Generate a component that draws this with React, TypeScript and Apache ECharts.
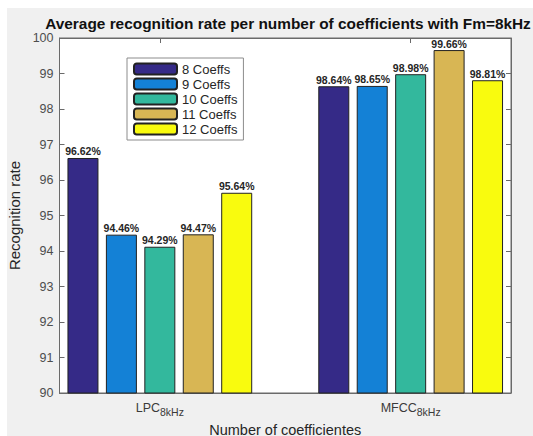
import React, { useEffect, useRef } from "react";
import * as echarts from "echarts";

const groupPositions = [1, 2];
const groupNames = ["LPC", "MFCC"];
const groupSub = "8kHz";
const seriesNames = ["8 Coeffs", "9 Coeffs", "10 Coeffs", "11 Coeffs", "12 Coeffs"];
const lpcValues = [96.62, 94.46, 94.12, 94.47, 95.64];
const mfccValues = [98.64, 98.65, 98.98, 99.66, 98.81];
const lpcLabels = ["96.62%", "94.46%", "94.29%", "94.47%", "95.64%"];
const mfccLabels = ["98.64%", "98.65%", "98.98%", "99.66%", "98.81%"];
const colors = ["#352a87", "#1481d6", "#33b89d", "#d8b654", "#f9fb0e"];
const yTicks = [90, 91, 92, 93, 94, 95, 96, 97, 98, 99, 100];

export default function App() {
  const ref = useRef<HTMLDivElement>(null);
  useEffect(() => {
    if (!ref.current) return;
    const chart = echarts.init(ref.current, null, { renderer: "svg" });
    const font = "'Liberation Sans', Arial, Helvetica, sans-serif";
    const series = seriesNames.map((name, i) => ({
      name,
      type: "bar",
      xAxisIndex: 0,
      yAxisIndex: 0,
      barWidth: 31,
      barGap: "24%",
      data: [
        [groupPositions[0], lpcValues[i]],
        [groupPositions[1], mfccValues[i]],
      ],
      itemStyle: { color: colors[i], borderColor: "#222", borderWidth: 1 },
      label: {
        show: true,
        position: "top",
        distance: 1,
        fontFamily: font,
        fontSize: 10.5,
        fontWeight: "bold",
        color: "#262626",
        formatter: (p: any) => (p.dataIndex === 0 ? lpcLabels[i] : mfccLabels[i]),
      },
    }));
    chart.setOption({
      animation: false,
      backgroundColor: "#f0f0f0",
      textStyle: { fontFamily: font },
      title: {
        text: "Average recognition rate per number of coefficients with Fm=8kHz",
        left: 276,
        textAlign: "center",
        top: 3,
        textStyle: { fontFamily: font, fontSize: 15.4, fontWeight: "bold", color: "#111" },
      },
      legend: {
        orient: "vertical",
        left: 120,
        top: 50,
        padding: [4, 6, 4, 6],
        itemWidth: 43,
        itemHeight: 11,
        itemGap: 1,
        backgroundColor: "#ffffff",
        borderColor: "#8c8c8c",
        borderWidth: 1,
        borderRadius: 0,
        textStyle: { fontFamily: font, fontSize: 13, lineHeight: 14, color: "#262626" },
        data: seriesNames,
      },
      grid: {
        left: 52.5,
        right: 22,
        top: 30,
        bottom: 43,
        outerBoundsMode: "none",
        containLabel: false,
        show: true,
        backgroundColor: "#ffffff",
        borderColor: "#6a6a6a",
        borderWidth: 1,
      },
      xAxis: [
        {
          type: "value",
          min: 0.6,
          max: 2.4,
          position: "bottom",
          name: "Number of coefficientes",
          nameLocation: "middle",
          nameGap: 29,
          nameTextStyle: { fontFamily: font, fontSize: 14.5, color: "#262626" },
          axisLine: { show: true, lineStyle: { color: "#6a6a6a" } },
          axisTick: { show: true, inside: true, length: 5, customValues: groupPositions, lineStyle: { color: "#6a6a6a" } },
          splitLine: { show: false },
          axisLabel: {
            customValues: groupPositions,
            margin: 8,
            color: "#3a3a3a",
            formatter: (v: number) => {
              const idx = groupPositions.indexOf(v);
              return idx >= 0 ? `{a|${groupNames[idx]}}{b|${groupSub}}` : "";
            },
            rich: {
              a: { fontFamily: font, fontSize: 12.5, lineHeight: 14, color: "#3a3a3a" },
              b: { fontFamily: font, fontSize: 10.5, lineHeight: 11, padding: [7, 0, 0, 0], color: "#3a3a3a" },
            },
          },
        },
        {
          type: "value",
          min: 0.6,
          max: 2.4,
          position: "top",
          axisLine: { show: true, lineStyle: { color: "#6a6a6a" } },
          axisTick: { show: true, inside: true, length: 5, customValues: groupPositions, lineStyle: { color: "#6a6a6a" } },
          splitLine: { show: false },
          axisLabel: { show: false },
        },
      ],
      yAxis: [
        {
          type: "value",
          min: yTicks[0],
          max: yTicks[yTicks.length - 1],
          interval: 1,
          position: "left",
          name: "Recognition rate",
          nameLocation: "middle",
          nameGap: 35,
          nameTextStyle: { fontFamily: font, fontSize: 15, color: "#262626" },
          axisLine: { show: true, lineStyle: { color: "#6a6a6a" } },
          axisTick: { show: true, inside: true, length: 5, lineStyle: { color: "#6a6a6a" } },
          splitLine: { show: false },
          axisLabel: { margin: 6, fontFamily: font, fontSize: 12.5, color: "#4d4d4d" },
        },
        {
          type: "value",
          min: yTicks[0],
          max: yTicks[yTicks.length - 1],
          interval: 1,
          position: "right",
          axisLine: { show: true, lineStyle: { color: "#6a6a6a" } },
          axisTick: { show: true, inside: true, length: 5, lineStyle: { color: "#6a6a6a" } },
          splitLine: { show: false },
          axisLabel: { show: false },
        },
      ],
      series,
    });
    return () => chart.dispose();
  }, []);
  return (
    <div
      ref={ref}
      style={{ position: "absolute", left: 7, top: 8, width: 526, height: 428 }}
    />
  );
}
